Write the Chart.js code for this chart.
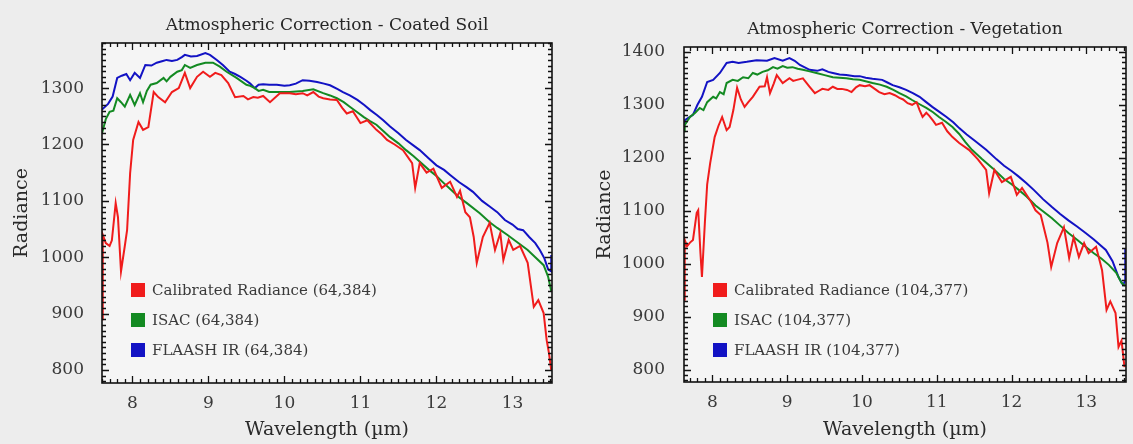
<!DOCTYPE html>
<html>
<head>
<meta charset="utf-8">
<script src="https://cdn.jsdelivr.net/npm/chart.js@4.4.1/dist/chart.umd.min.js"></script>
<style>
  html, body { margin: 0; padding: 0; background: #ededed; }
  .panel { position: absolute; top: 0; height: 444px; }
  #soilBox { left: 0; width: 566px; }
  #vegBox { left: 566px; width: 567px; }
</style>
</head>
<body>
<div class="panel" id="soilBox"><canvas id="soil"></canvas></div>
<div class="panel" id="vegBox"><canvas id="veg"></canvas></div>
<script>
// tick labels
const xTicks = [8, 9, 10, 11, 12, 13]
const soilYTicks = [800, 900, 1000, 1100, 1200, 1300]
const vegYTicks = [800, 900, 1000, 1100, 1200, 1300, 1400]

// Coated soil (64,384)
const soilRedWl = [7.60, 7.61, 7.65, 7.70, 7.73, 7.78, 7.81, 7.85, 7.90, 7.93, 7.97, 8.01, 8.08, 8.14, 8.21, 8.28, 8.34, 8.43, 8.52, 8.61, 8.69, 8.76, 8.85, 8.93, 9.02, 9.09, 9.17, 9.26, 9.35, 9.46, 9.52, 9.59, 9.65, 9.72, 9.81, 9.94, 10.07, 10.15, 10.24, 10.30, 10.38, 10.45, 10.51, 10.60, 10.69, 10.76, 10.82, 10.90, 11.00, 11.09, 11.21, 11.28, 11.35, 11.45, 11.56, 11.68, 11.72, 11.78, 11.87, 11.96, 12.07, 12.18, 12.27, 12.31, 12.38, 12.44, 12.49, 12.53, 12.61, 12.70, 12.77, 12.84, 12.88, 12.95, 13.01, 13.10, 13.20, 13.28, 13.34, 13.41, 13.45, 13.48, 13.51]
const soilRed = [890, 1040, 1025, 1020, 1030, 1096, 1071, 975, 1020, 1048, 1149, 1208, 1240, 1226, 1231, 1293, 1284, 1275, 1293, 1300, 1327, 1300, 1320, 1329, 1320, 1327, 1323, 1309, 1284, 1286, 1280, 1284, 1283, 1286, 1275, 1291, 1291, 1289, 1291, 1287, 1293, 1285, 1282, 1280, 1279, 1265, 1255, 1259, 1238, 1243, 1226, 1218, 1208, 1200, 1190, 1167, 1123, 1167, 1150, 1157, 1123, 1134, 1107, 1118, 1080, 1071, 1036, 990, 1036, 1061, 1013, 1043, 995, 1031, 1013, 1020, 990, 912, 924, 901, 853, 830, 800]

const soilGreenWl = [7.60, 7.65, 7.70, 7.75, 7.80, 7.85, 7.90, 7.97, 8.03, 8.10, 8.14, 8.19, 8.24, 8.32, 8.41, 8.45, 8.50, 8.59, 8.65, 8.69, 8.76, 8.85, 8.96, 9.06, 9.15, 9.24, 9.37, 9.50, 9.55, 9.61, 9.66, 9.72, 9.80, 9.90, 10.07, 10.24, 10.38, 10.51, 10.60, 10.69, 10.78, 10.86, 10.95, 11.04, 11.12, 11.21, 11.30, 11.39, 11.50, 11.60, 11.70, 11.80, 11.90, 12.00, 12.10, 12.22, 12.30, 12.40, 12.57, 12.70, 12.80, 12.93, 13.05, 13.20, 13.30, 13.41, 13.47, 13.51]
const soilGreen = [1220, 1245, 1258, 1260, 1282, 1275, 1267, 1288, 1270, 1291, 1275, 1295, 1306, 1309, 1318, 1312, 1320, 1329, 1332, 1341, 1336, 1341, 1345, 1345, 1338, 1329, 1318, 1306, 1304, 1300, 1295, 1297, 1293, 1293, 1293, 1295, 1298, 1291, 1287, 1282, 1275, 1267, 1258, 1249, 1242, 1235, 1224, 1213, 1202, 1190, 1179, 1167, 1155, 1144, 1131, 1116, 1106, 1096, 1078, 1062, 1052, 1040, 1028, 1013, 1000, 986, 965, 940]

const soilBlueWl = [7.60, 7.68, 7.74, 7.80, 7.86, 7.92, 7.97, 8.03, 8.10, 8.17, 8.25, 8.32, 8.40, 8.45, 8.52, 8.59, 8.65, 8.69, 8.77, 8.85, 8.96, 9.02, 9.11, 9.19, 9.28, 9.35, 9.42, 9.50, 9.55, 9.61, 9.66, 9.72, 9.80, 9.90, 10.00, 10.07, 10.15, 10.24, 10.33, 10.43, 10.52, 10.60, 10.70, 10.77, 10.86, 10.96, 11.05, 11.13, 11.22, 11.30, 11.39, 11.50, 11.60, 11.70, 11.78, 11.90, 12.00, 12.10, 12.18, 12.30, 12.40, 12.48, 12.60, 12.70, 12.80, 12.90, 13.00, 13.07, 13.14, 13.22, 13.30, 13.36, 13.42, 13.47, 13.51, 13.51]
const soilBlue = [1262, 1272, 1285, 1318, 1322, 1325, 1314, 1327, 1318, 1341, 1340, 1345, 1348, 1350, 1348, 1350, 1355, 1359, 1356, 1357, 1362, 1359, 1350, 1341, 1329, 1325, 1320, 1313, 1308, 1300, 1306, 1307, 1306, 1306, 1304, 1305, 1308, 1314, 1313, 1311, 1308, 1305, 1298, 1293, 1287, 1279, 1270, 1261, 1252, 1243, 1232, 1220, 1208, 1198, 1190, 1175, 1163, 1155, 1146, 1133, 1124, 1116, 1100, 1090, 1080, 1066, 1058, 1050, 1048, 1036, 1025, 1013, 998, 978, 975, 1004]

// Vegetation (104,377)
const vegRedWl = [7.62, 7.63, 7.66, 7.70, 7.74, 7.79, 7.81, 7.84, 7.86, 7.90, 7.93, 7.97, 8.03, 8.08, 8.13, 8.19, 8.23, 8.28, 8.33, 8.38, 8.43, 8.48, 8.54, 8.63, 8.70, 8.73, 8.77, 8.82, 8.86, 8.94, 9.03, 9.08, 9.13, 9.21, 9.30, 9.37, 9.42, 9.47, 9.55, 9.61, 9.67, 9.73, 9.80, 9.86, 9.92, 9.97, 10.04, 10.10, 10.17, 10.23, 10.30, 10.37, 10.44, 10.50, 10.55, 10.61, 10.67, 10.73, 10.77, 10.81, 10.86, 10.90, 10.95, 10.99, 11.07, 11.14, 11.21, 11.30, 11.43, 11.55, 11.66, 11.70, 11.77, 11.87, 11.99, 12.07, 12.14, 12.26, 12.32, 12.39, 12.43, 12.48, 12.53, 12.61, 12.70, 12.77, 12.83, 12.90, 12.97, 13.03, 13.13, 13.21, 13.27, 13.32, 13.39, 13.43, 13.47, 13.51]
const vegRed = [932, 1045, 1033, 1040, 1045, 1096, 1101, 1020, 975, 1080, 1150, 1190, 1239, 1260, 1277, 1252, 1258, 1290, 1332, 1310, 1296, 1305, 1315, 1334, 1335, 1352, 1322, 1340, 1356, 1341, 1350, 1345, 1347, 1350, 1334, 1322, 1326, 1330, 1328, 1334, 1330, 1330, 1328, 1324, 1333, 1337, 1335, 1337, 1330, 1324, 1320, 1322, 1318, 1313, 1310, 1303, 1300, 1305, 1290, 1277, 1285, 1279, 1270, 1262, 1266, 1250, 1239, 1228, 1215, 1197, 1177, 1133, 1177, 1154, 1164, 1130, 1143, 1117, 1101, 1092, 1069, 1040, 994, 1039, 1069, 1011, 1050, 1013, 1039, 1020, 1032, 988, 913, 929, 907, 843, 855, 805]

const vegGreenWl = [7.62, 7.63, 7.70, 7.77, 7.83, 7.88, 7.93, 8.01, 8.05, 8.10, 8.15, 8.19, 8.27, 8.34, 8.41, 8.48, 8.54, 8.60, 8.67, 8.74, 8.81, 8.87, 8.94, 9.00, 9.07, 9.14, 9.21, 9.30, 9.39, 9.50, 9.61, 9.70, 9.79, 9.88, 9.97, 10.06, 10.14, 10.24, 10.33, 10.42, 10.50, 10.59, 10.67, 10.77, 10.86, 10.95, 11.03, 11.12, 11.21, 11.30, 11.38, 11.47, 11.60, 11.75, 11.90, 12.00, 12.10, 12.20, 12.32, 12.42, 12.54, 12.65, 12.76, 12.88, 12.99, 13.10, 13.20, 13.30, 13.40, 13.47, 13.52]
const vegGreen = [1250, 1262, 1277, 1285, 1294, 1290, 1305, 1315, 1312, 1324, 1320, 1341, 1347, 1345, 1352, 1350, 1360, 1357, 1362, 1365, 1371, 1368, 1373, 1370, 1371, 1368, 1366, 1363, 1360, 1356, 1352, 1351, 1350, 1348, 1347, 1344, 1341, 1338, 1334, 1328, 1322, 1316, 1309, 1301, 1294, 1286, 1277, 1268, 1258, 1245, 1230, 1215, 1198, 1180, 1160, 1150, 1139, 1127, 1110, 1099, 1086, 1072, 1058, 1045, 1032, 1020, 1010, 998, 983, 964, 958]

const vegBlueWl = [7.62, 7.63, 7.74, 7.80, 7.86, 7.93, 8.01, 8.10, 8.19, 8.27, 8.35, 8.46, 8.59, 8.73, 8.83, 8.94, 9.03, 9.10, 9.17, 9.30, 9.40, 9.47, 9.55, 9.61, 9.70, 9.79, 9.90, 9.97, 10.05, 10.14, 10.27, 10.34, 10.41, 10.50, 10.59, 10.68, 10.77, 10.85, 10.94, 11.03, 11.13, 11.22, 11.30, 11.40, 11.50, 11.58, 11.66, 11.80, 11.90, 12.00, 12.10, 12.20, 12.30, 12.42, 12.54, 12.65, 12.76, 12.88, 12.99, 13.10, 13.18, 13.26, 13.35, 13.43, 13.49, 13.52, 13.52]
const vegBlue = [1266, 1271, 1281, 1300, 1315, 1343, 1347, 1360, 1379, 1381, 1379, 1381, 1384, 1383, 1388, 1383, 1388, 1383, 1375, 1366, 1364, 1367, 1362, 1360, 1357, 1356, 1354, 1354, 1351, 1349, 1347, 1342, 1337, 1333, 1328, 1322, 1315, 1306, 1296, 1287, 1277, 1267, 1256, 1244, 1233, 1224, 1215, 1197, 1185, 1175, 1164, 1152, 1139, 1122, 1107, 1094, 1082, 1070, 1058, 1046, 1036, 1026, 1005, 975, 960, 968, 1030]

const RED = '#f01c1c', GREEN = '#138a22', BLUE = '#1212c4'
const FONT = 'DejaVu Serif'

const pts = (xs, ys) => xs.map((x, i) => ({ x, y: ys[i] }))

// frame with inward major/minor ticks on all four sides
const frameTicks = {
  id: 'frameTicks',
  beforeDatasetsDraw(chart) {
    const { ctx, chartArea: a } = chart
    ctx.save()
    ctx.fillStyle = '#f5f5f5'
    ctx.fillRect(a.left, a.top, a.width, a.height)
    ctx.restore()
  },
  afterDatasetsDraw(chart) {
    const { ctx, chartArea: a, scales: { x, y } } = chart
    ctx.save()
    ctx.strokeStyle = '#111'
    ctx.lineWidth = 1.3
    ctx.beginPath()
    for (let i = Math.ceil(x.min * 10); i <= Math.floor(x.max * 10); i++) {
      const px = Math.round(x.getPixelForValue(i / 10)) + 0.5
      const len = i % 10 === 0 ? 7 : 4
      ctx.moveTo(px, a.bottom); ctx.lineTo(px, a.bottom - len)
      ctx.moveTo(px, a.top); ctx.lineTo(px, a.top + len)
    }
    for (let v = Math.ceil(y.min / 10) * 10; v <= y.max; v += 10) {
      const py = Math.round(y.getPixelForValue(v)) + 0.5
      const len = v % 100 === 0 ? 7 : 4
      ctx.moveTo(a.left, py); ctx.lineTo(a.left + len, py)
      ctx.moveTo(a.right, py); ctx.lineTo(a.right - len, py)
    }
    ctx.stroke()
    ctx.lineWidth = 1.6
    ctx.strokeRect(a.left, a.top, a.width, a.height)
    ctx.restore()
  }
}

// legend drawn inside the plot, lower left
const boxLegend = {
  id: 'boxLegend',
  afterDatasetsDraw(chart, args, opts) {
    const { ctx } = chart
    ctx.save()
    ctx.font = '15px "' + FONT + '"'
    ctx.textBaseline = 'middle'
    chart.data.datasets.forEach((ds, i) => {
      const yc = opts.y + i * opts.gap
      ctx.fillStyle = ds.borderColor
      ctx.fillRect(opts.x, yc - 7, 14, 14)
      ctx.fillStyle = '#3a3a3a'
      ctx.fillText(ds.label, opts.x + 21, yc + 1)
    })
    ctx.restore()
  }
}

function makeChart(id, cfg) {
  return new Chart(document.getElementById(id), {
    type: 'line',
    data: {
      datasets: [
        { label: 'Calibrated Radiance ' + cfg.tag, data: pts(cfg.red[0], cfg.red[1]), borderColor: RED },
        { label: 'ISAC ' + cfg.tag, data: pts(cfg.green[0], cfg.green[1]), borderColor: GREEN },
        { label: 'FLAASH IR ' + cfg.tag, data: pts(cfg.blue[0], cfg.blue[1]), borderColor: BLUE }
      ].map(d => ({ ...d, borderWidth: 2, pointRadius: 0, tension: 0, fill: false }))
    },
    options: {
      responsive: true,
      maintainAspectRatio: false,
      animation: false,
      layout: { padding: { left: 0, right: cfg.padRight, top: 0, bottom: 0 } },
      plugins: {
        legend: { display: false },
        tooltip: { enabled: false },
        title: {
          display: true, text: cfg.title, fullSize: false, color: '#262626',
          font: { family: FONT, size: 17, weight: 'normal' },
          padding: cfg.titlePad
        },
        boxLegend: { x: cfg.legendX, y: 290, gap: 30 }
      },
      scales: {
        x: {
          type: 'linear', min: cfg.xMin, max: cfg.xMax,
          grid: { display: false }, border: { display: false },
          afterBuildTicks: s => { s.ticks = xTicks.map(value => ({ value })) },
          afterFit: s => { s.height = cfg.xAxisH },
          ticks: { color: '#3a3a3a', padding: 2, font: { family: FONT, size: 17 }, callback: v => String(v) },
          title: { display: true, text: 'Wavelength (µm)', color: '#2a2a2a', padding: { top: 0, bottom: 3 }, font: { family: FONT, size: 19 } }
        },
        y: {
          type: 'linear', min: cfg.yMin, max: cfg.yMax,
          grid: { display: false }, border: { display: false },
          afterBuildTicks: s => { s.ticks = cfg.yTicks.map(value => ({ value })) },
          afterFit: s => { s.width = cfg.yAxisW },
          ticks: { color: '#3a3a3a', padding: cfg.yTickPad, font: { family: FONT, size: 17 }, callback: v => String(v) },
          title: { display: true, text: 'Radiance', color: '#2a2a2a', padding: { top: cfg.yTitlePad, bottom: 0 }, font: { family: FONT, size: 19 } }
        }
      }
    },
    plugins: [frameTicks, boxLegend]
  })
}

makeChart('soil', {
  title: 'Atmospheric Correction - Coated Soil', tag: '(64,384)',
  red: [soilRedWl, soilRed], green: [soilGreenWl, soilGreen], blue: [soilBlueWl, soilBlue],
  xMin: 7.6, xMax: 13.52, yMin: 777, yMax: 1380, yTicks: soilYTicks,
  padRight: 14, yAxisW: 102, xAxisH: 61, yTickPad: 10, yTitlePad: 11,
  titlePad: { top: 15, bottom: 7.6 }, legendX: 131
})

makeChart('veg', {
  title: 'Atmospheric Correction - Vegetation', tag: '(104,377)',
  red: [vegRedWl, vegRed], green: [vegGreenWl, vegGreen], blue: [vegBlueWl, vegBlue],
  xMin: 7.62, xMax: 13.53, yMin: 777, yMax: 1409, yTicks: vegYTicks,
  padRight: 7, yAxisW: 118, xAxisH: 62, yTickPad: 11, yTitlePad: 28,
  titlePad: { top: 19, bottom: 7.6 }, legendX: 147
})
</script>
</body>
</html>
